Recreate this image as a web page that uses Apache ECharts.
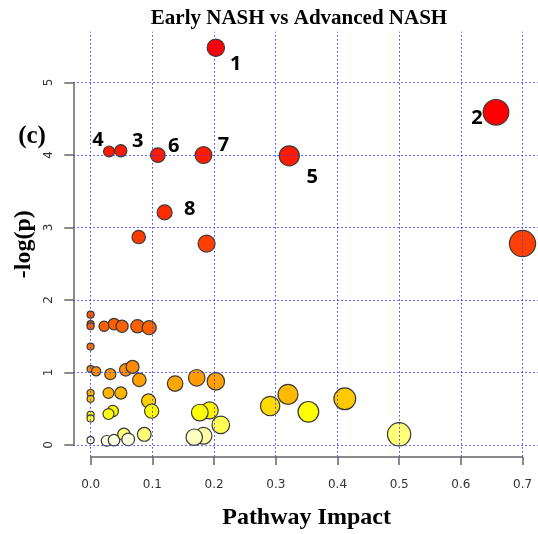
<!DOCTYPE html>
<html>
<head>
<meta charset="utf-8">
<script src="https://cdn.jsdelivr.net/npm/echarts@6/dist/echarts.min.js"></script>
<style>html,body{margin:0;padding:0;background:#fff}#c{width:538px;height:534px}</style>
</head>
<body>
<div id="c"></div>
<script>
// ---- data ----
const impact = [0.203, 0.657, 0.049, 0.030, 0.322, 0.109, 0.183, 0.120, 0.078, 0.188, 0.700,
  0, 0, 0, 0.022, 0.038, 0.051, 0.076, 0.095, 0,
  0, 0.009, 0.032, 0.057, 0.068, 0.079, 0.137, 0.172, 0.203,
  0, 0, 0.029, 0.049, 0.094, 0.099, 0, 0, 0.036, 0.029, 0.193, 0.177, 0.211,
  0, 0.026, 0.038, 0.054, 0.061, 0.087, 0.183, 0.168,
  0.291, 0.320, 0.353, 0.412, 0.500];
const logp = [5.48, 4.59, 4.06, 4.05, 3.99, 4.00, 4.00, 3.21, 2.87, 2.78, 2.78,
  1.80, 1.67, 1.64, 1.64, 1.67, 1.64, 1.64, 1.62, 1.36,
  1.05, 1.02, 0.98, 1.04, 1.08, 0.90, 0.85, 0.93, 0.88,
  0.72, 0.64, 0.72, 0.72, 0.61, 0.47, 0.42, 0.37, 0.47, 0.43, 0.48, 0.45, 0.28,
  0.07, 0.06, 0.07, 0.15, 0.08, 0.15, 0.13, 0.11,
  0.54, 0.70, 0.46, 0.64, 0.15];
const pointLabels = ['1', '2', '3', '4', '5', '6', '7', '8'];
const xTicks = [0, 0.1, 0.2, 0.3, 0.4, 0.5, 0.6, 0.7];
const yTicks = [0, 1, 2, 3, 4, 5];
const titleText = 'Early NASH vs Advanced NASH';
const xName = 'Pathway Impact';
const yName = '-log(p)';
const panelTag = '(c)';

// ---- style ----
const labelOffsets = [[20, 17], [-19, 6], [17, -9], [-11, -11], [23, 21], [16, -9], [20, -10], [25, -3]];
const colorStops = [[0, '#FFFFF5'], [0.08, '#FFFFE0'], [0.12, '#FFFFB8'], [0.15, '#FFFF78'], [0.3, '#FFFF50'],
  [0.46, '#FFFF00'], [0.5, '#FFE800'], [0.55, '#FFD600'], [0.65, '#FFC800'], [0.72, '#FFB400'],
  [0.9, '#FFA000'], [1.05, '#FF8C00'], [1.4, '#FF7000'], [1.65, '#FF6000'], [1.8, '#FF5800'],
  [2.8, '#FF4000'], [3.2, '#FF2C00'], [4.0, '#FF1C00'], [4.5, '#FF0000'], [6, '#FF0000']];
function hex2rgb(h){return [parseInt(h.slice(1,3),16),parseInt(h.slice(3,5),16),parseInt(h.slice(5,7),16)];}
function heat(v){
  for (let i = 0; i < colorStops.length - 1; i++) {
    const a = colorStops[i], b = colorStops[i+1];
    if (v <= b[0]) {
      const t = Math.max(0, (v - a[0]) / (b[0] - a[0]));
      const ca = hex2rgb(a[1]), cb = hex2rgb(b[1]);
      return 'rgb(' + ca.map((c, k) => Math.round(c + (cb[k]-c)*t)).join(',') + ')';
    }
  }
  return colorStops[colorStops.length-1][1];
}
const gridLine = {color: '#3a3aff', width: 1, type: [1.5, 2.5]};

const points = impact.map((x, i) => {
  const item = {value: [x, logp[i]]};
  if (i < pointLabels.length) {
    item.label = {show: true, formatter: pointLabels[i], offset: labelOffsets[i]};
  }
  return item;
});

const chart = echarts.init(document.getElementById('c'), null, {renderer: 'canvas'});
chart.setOption({
  animation: false,
  title: [
    {text: titleText, left: 294, top: 3, textAlign: 'center',
     textStyle: {fontFamily: 'Liberation Serif', fontWeight: 'bold', fontSize: 21, color: '#000'}},
    {text: panelTag, left: 27, top: 119, textAlign: 'center',
     textStyle: {fontFamily: 'Liberation Serif', fontWeight: 'bold', fontSize: 25, color: '#000'}}
  ],
  grid: [
    {left: 73.3, top: 31.8, width: 466.5, height: 424.8, containLabel: false, outerBoundsMode: 'none'},
    {left: 90.7, top: 82.5, width: 431.9, height: 362.5, containLabel: false, outerBoundsMode: 'none'}
  ],
  xAxis: [
    {gridIndex: 0, type: 'value', min: -0.028, max: 0.728,
     axisLine: {show: false}, axisTick: {show: false}, axisLabel: {show: false}, splitLine: {show: false},
     name: xName, nameLocation: 'middle', nameGap: 49,
     nameTextStyle: {fontFamily: 'Liberation Serif', fontWeight: 'bold', fontSize: 24, color: '#000'}},
    {gridIndex: 1, type: 'value', min: 0, max: 0.7, interval: 0.1, position: 'bottom', offset: 12,
     axisLine: {show: true, onZero: false, lineStyle: {color: '#666', width: 1.5}},
     axisTick: {show: true, length: 8, lineStyle: {color: '#666', width: 1.5}},
     axisLabel: {margin: 22, fontFamily: 'DejaVu Sans', fontSize: 12, color: '#333',
                 formatter: v => v.toFixed(1)},
     splitLine: {show: false}}
  ],
  yAxis: [
    {gridIndex: 0, type: 'value', min: -0.157, max: 5.70,
     axisLine: {show: false}, axisTick: {show: false}, axisLabel: {show: false}, splitLine: {show: false},
     name: yName, nameLocation: 'middle', nameGap: 38, nameRotate: 90,
     nameTextStyle: {fontFamily: 'Liberation Serif', fontWeight: 'bold', fontSize: 24, color: '#000'}},
    {gridIndex: 1, type: 'value', min: 0, max: 5, interval: 1, position: 'left', offset: 17.4,
     axisLine: {show: true, onZero: false, lineStyle: {color: '#666', width: 1.5}},
     axisTick: {show: true, length: 9, lineStyle: {color: '#666', width: 1.5}},
     axisLabel: {margin: 18, rotate: 90, fontFamily: 'DejaVu Sans', fontSize: 12, color: '#333'},
     splitLine: {show: false}}
  ],
  series: [
    {type: 'scatter', xAxisIndex: 0, yAxisIndex: 0, data: [], z: 1, silent: true,
     markLine: {symbol: ['none', 'none'], silent: true, label: {show: false},
       lineStyle: gridLine, animation: false,
       data: xTicks.map(v => ({xAxis: v})).concat(yTicks.map(v => ({yAxis: v})))}},
    {type: 'scatter', xAxisIndex: 0, yAxisIndex: 0, z: 3,
     data: points,
     symbolSize: v => 2 * (3.5 + 11.5 * Math.sqrt(v[0])),
     itemStyle: {color: p => heat(p.value[1]), borderColor: '#3a3a3a', borderWidth: 1.2, opacity: 1},
     label: {show: false, position: 'inside', fontFamily: 'Open Sans', fontWeight: 'bold',
             fontSize: 20, color: '#000'},
     emphasis: {disabled: true}}
  ]
});
</script>
</body>
</html>
